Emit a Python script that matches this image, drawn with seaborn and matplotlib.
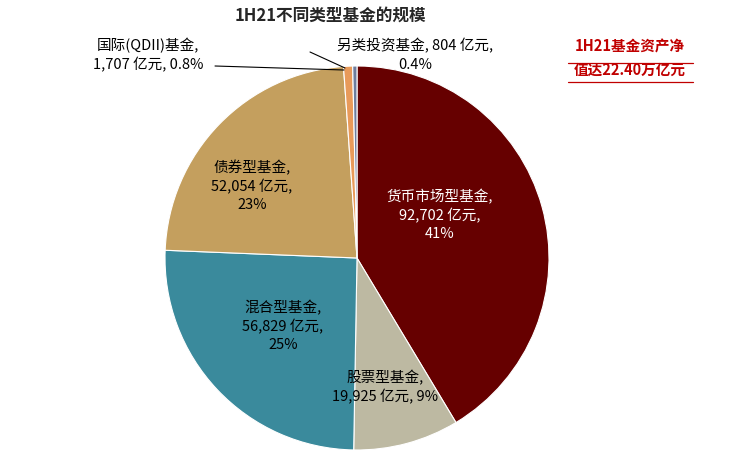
import matplotlib
matplotlib.use("Agg")
import matplotlib.pyplot as plt
import seaborn as sns

sns.set_theme(style="white")
plt.rcParams['font.family'] = ['Noto Sans CJK SC', 'DejaVu Sans']

categories = ["货币市场型基金", "股票型基金", "混合型基金", "债券型基金", "国际(QDII)基金", "另类投资基金"]
values = [92702, 19925, 56829, 52054, 1707, 804]
pcts = ["41%", "9%", "25%", "23%", "0.8%", "0.4%"]
colors = ["#660000", "#BDB9A2", "#3A8A9C", "#C49F5E", "#E89A5A", "#6F7E9E"]

fig = plt.figure(figsize=(7.53, 4.63), dpi=100)
ax = fig.add_axes([357/753 - 192/753, 1 - 258/463 - 192/463, 384/753, 384/463])
ax.pie(values, colors=colors, startangle=90, counterclock=False,
       wedgeprops=dict(edgecolor="white", linewidth=0.8))
ax.set_aspect("equal")
ax.set_xlim(-1, 1); ax.set_ylim(-1, 1)

def fmt(v):
    return f"{v:,}"

def ftxt(x, y, s, color="black", **kw):
    fig.text(x/753, 1 - y/463, s, ha="center", va="center", fontsize=10.5, color=color, linespacing=1.35, **kw)

ftxt(440, 215, f"{categories[0]},\n{fmt(values[0])} 亿元,\n{pcts[0]}", color="white")
ftxt(385, 387, f"{categories[1]},\n{fmt(values[1])} 亿元, {pcts[1]}")
ftxt(283, 326, f"{categories[2]},\n{fmt(values[2])} 亿元,\n{pcts[2]}")
ftxt(252, 186, f"{categories[3]},\n{fmt(values[3])} 亿元,\n{pcts[3]}")
ftxt(148, 55, f"{categories[4]},\n{fmt(values[4])} 亿元, {pcts[4]}")
ftxt(415, 55, f"{categories[5]}, {fmt(values[5])} 亿元,\n{pcts[5]}")
fig.text(330/753, 1 - 16/463, "1H21不同类型基金的规模", ha="center", va="center", fontsize=12, fontweight="bold")
fig.text(630/753, 1 - 58/463, "1H21基金资产净\n值达22.40万亿元", ha="center", va="center",
         fontsize=10.5, fontweight="bold", color="#C00000", linespacing=1.5)
for yy in (63, 82):
    fig.add_artist(plt.Line2D([568/753, 693/753], [1 - yy/463]*2, color="#C00000", lw=0.9))
fig.add_artist(plt.Line2D([215/753, 344/753], [1 - 66/463, 1 - 70/463], color="black", lw=0.8))
fig.add_artist(plt.Line2D([310/753, 345/753], [1 - 52/463, 1 - 68/463], color="black", lw=0.8))

fig.savefig("out.png", dpi=100)
